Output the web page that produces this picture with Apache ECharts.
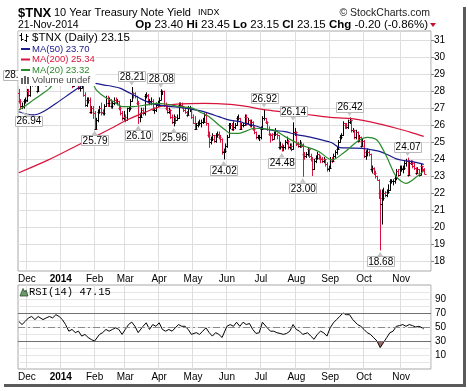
<!DOCTYPE html>
<html><head><meta charset="utf-8">
<script src="https://cdn.jsdelivr.net/npm/echarts/dist/echarts.min.js"></script>
<style>html,body{margin:0;padding:0;background:#fff}#c{width:468px;height:391px}</style>
</head><body><div id="c"></div><script>
// ---- categories (trading days per month segment) ----
const monthLabels = ['', 'Dec', '2014', 'Feb', 'Mar', 'Apr', 'May', 'Jun', 'Jul', 'Aug', 'Sep', 'Oct', 'Nov'];
const monthDays   = [5, 21, 21, 19, 21, 21, 21, 21, 22, 21, 21, 23, 15];
const padDays = 4;
const priceTicks = [18,19,20,21,22,23,24,25,26,27,28,29,30,31];
const rsiLabels = [10,30,50,70,90];
const rsiGrid = [0,10,20,30,40,50,60,70,80,90,100];

// ---- daily OHLC ($TNX x10) ----
const openP = [27.9,27.4,27.1,27.1,27.4,27.5,28.0,27.8,28.4,28.8,28.6,28.4,28.0,28.5,28.8,28.7,28.8,28.4,28.9,29.3,28.9,29.3,29.8,29.9,30.1,29.7,
30.3,29.9,30.0,29.6,29.4,29.9,29.7,28.6,28.3,28.7,28.9,28.5,28.2,28.2,28.6,27.8,27.2,27.5,27.5,26.8,27.0,
26.7,25.8,26.3,26.8,27.0,26.8,26.7,27.1,27.6,27.3,27.5,27.1,27.3,27.5,27.3,27.4,27.0,26.7,26.4,
26.5,26.3,27.0,27.0,27.4,27.9,27.8,27.7,27.3,26.5,26.5,26.9,26.7,27.7,27.8,27.4,27.4,27.4,26.9,26.9,27.2,
27.2,27.5,28.0,28.0,27.2,27.0,26.8,26.9,26.5,26.2,26.5,26.3,26.4,27.2,27.2,27.1,26.9,26.8,26.6,27.0,27.0,
26.5,26.1,25.8,26.0,26.1,26.1,26.2,26.2,26.6,26.1,25.4,25.0,25.2,25.4,25.1,25.4,25.5,25.3,25.2,24.4,24.5,
24.8,25.3,26.0,26.0,25.8,25.9,26.0,26.4,26.4,25.8,26.0,26.0,26.5,26.1,26.3,26.0,26.2,25.8,25.6,25.3,25.3,
25.3,25.8,26.4,26.4,26.2,25.8,25.5,25.4,25.2,25.5,25.5,25.4,24.7,24.8,24.7,24.7,25.0,25.1,24.7,24.8,24.6,25.6,
25.6,24.9,24.8,24.9,24.8,24.3,24.2,24.3,24.6,24.2,24.0,23.4,23.9,24.1,24.3,24.1,24.0,23.9,24.0,23.7,23.4,
23.5,24.0,23.9,24.2,24.4,24.6,25.0,25.3,25.4,26.1,26.0,25.9,26.2,26.3,25.7,25.7,25.3,25.6,25.1,25.3,24.8,
25.1,24.2,24.4,24.4,24.3,23.4,23.5,23.2,23.0,22.8,22.0,21.4,21.7,22.0,21.9,22.1,22.2,22.7,22.7,22.7,22.9,23.3,23.1,
23.4,23.4,23.5,23.8,23.9,23.1,23.8,23.8,23.6,23.5,23.2,23.4,23.1,23.6,23.40];
const highP = [28.1,27.5,27.3,27.5,27.6,28.1,28.1,28.5,28.97,28.9,28.7,28.5,28.6,28.9,28.9,28.9,28.8,29.4,29.4,29.4,29.4,29.8,30.0,30.2,30.1,30.4,
30.3,30.1,30.0,29.7,30.0,29.9,29.8,28.7,28.8,29.0,28.9,28.6,28.4,28.7,28.6,27.9,27.6,27.6,27.6,27.1,27.1,
26.8,26.4,26.9,27.1,27.3,26.9,27.2,27.7,27.7,27.6,27.5,27.4,27.6,27.6,27.5,27.4,27.1,26.8,26.8,
26.6,27.0,27.1,27.5,28.21,27.9,27.9,27.7,27.4,26.7,27.0,27.0,27.8,27.9,27.8,27.5,27.6,27.5,27.0,27.3,27.4,
27.6,28.08,28.0,28.0,27.3,27.1,27.0,26.9,26.6,26.6,26.5,26.6,27.3,27.3,27.3,27.1,27.0,26.8,27.1,27.1,27.0,
26.6,26.5,26.1,26.2,26.3,26.3,26.4,26.7,26.7,26.1,25.6,25.3,25.5,25.4,25.5,25.6,25.6,25.4,25.2,24.6,24.9,
25.4,26.1,26.1,26.1,26.2,26.1,26.5,26.6,26.4,26.1,26.1,26.6,26.6,26.4,26.3,26.3,26.2,25.9,25.6,25.4,25.4,
25.9,26.5,26.92,26.4,26.2,25.9,25.5,25.5,25.6,25.8,25.5,25.4,25.0,24.9,24.8,25.1,25.3,25.1,24.9,24.9,26.14,25.8,
25.6,25.0,25.1,25.0,24.9,24.4,24.4,24.7,24.6,24.3,24.1,24.0,24.2,24.4,24.3,24.2,24.1,24.1,24.0,23.8,23.6,
24.1,24.1,24.3,24.5,24.7,25.1,25.4,25.5,26.2,26.1,26.1,26.3,26.42,26.3,25.8,25.7,25.7,25.6,25.4,25.3,25.2,
25.1,24.5,24.6,24.5,24.3,23.6,23.5,23.3,23.0,22.8,22.2,22.2,22.3,22.1,22.2,22.5,22.8,22.8,22.8,23.0,23.4,23.4,23.6,
23.6,23.6,23.9,24.0,24.07,23.9,23.9,23.9,23.8,23.5,23.5,23.4,23.7,23.6,23.45];
const lowP = [27.3,26.94,26.97,27.0,27.3,27.4,27.7,27.7,28.3,28.4,28.3,27.9,28.0,28.4,28.6,28.6,28.3,28.3,28.9,28.8,28.9,29.3,29.6,29.9,29.6,29.7,
29.8,29.8,29.5,29.3,29.4,29.6,28.5,28.2,28.3,28.6,28.4,28.1,28.0,28.2,27.7,27.1,27.1,27.3,26.7,26.7,26.4,
25.79,25.8,26.2,26.7,26.6,26.6,26.6,27.1,27.1,27.1,27.0,27.0,27.2,27.3,27.2,26.9,26.6,26.3,26.3,
26.2,26.3,26.8,26.9,27.4,27.6,27.6,27.2,26.10,26.2,26.5,26.6,26.6,27.6,27.3,27.2,27.2,26.9,26.7,26.8,27.1,
27.1,27.5,27.8,27.1,26.9,26.7,26.7,26.4,26.1,25.96,26.1,26.3,26.4,27.1,27.0,26.8,26.7,26.5,26.6,26.8,26.4,
26.1,25.8,25.8,25.9,26.0,25.9,26.1,26.2,26.0,25.3,24.7,24.9,25.1,25.0,25.0,25.3,25.2,25.0,24.3,24.02,24.4,
24.7,25.3,25.8,25.7,25.7,25.8,26.0,26.3,25.8,25.8,25.9,26.0,26.0,26.1,25.9,25.9,25.7,25.5,25.2,25.2,25.1,
25.2,25.8,26.3,26.1,25.7,25.4,25.0,25.1,25.2,25.4,25.2,24.6,24.6,24.48,24.5,24.6,24.9,24.6,24.6,24.5,24.6,25.4,
24.8,24.7,24.7,24.7,23.00,24.0,24.1,24.2,24.1,23.9,23.05,23.4,23.8,24.0,24.0,23.8,23.8,23.8,23.6,23.3,23.3,
23.5,23.8,23.9,24.1,24.3,24.6,25.0,25.2,25.4,25.8,25.8,25.8,26.1,25.6,25.6,25.2,25.2,25.0,25.1,24.7,24.8,
24.1,24.0,24.2,24.2,23.3,23.2,23.1,22.9,22.8,21.7,18.68,20.2,21.6,21.8,21.8,22.0,22.2,22.6,22.5,22.6,22.8,23.0,23.1,
23.3,23.2,23.4,23.6,23.0,23.1,23.7,23.5,23.4,23.1,23.2,23.0,23.1,23.3,23.15];
const closeP = [27.4,27.1,27.1,27.4,27.5,28.0,27.8,28.4,28.8,28.6,28.4,28.0,28.5,28.8,28.7,28.8,28.4,28.9,29.3,28.9,29.3,29.8,29.9,30.1,29.7,30.3,
29.9,30.0,29.6,29.4,29.9,29.7,28.6,28.3,28.7,28.9,28.5,28.2,28.2,28.6,27.8,27.2,27.5,27.5,26.8,27.0,26.7,
25.8,26.3,26.8,27.0,26.8,26.7,27.1,27.6,27.3,27.5,27.1,27.3,27.5,27.3,27.4,27.0,26.7,26.4,26.5,
26.3,27.0,27.0,27.4,27.9,27.8,27.7,27.3,26.5,26.5,26.9,26.7,27.7,27.8,27.4,27.4,27.4,26.9,26.9,27.2,27.2,
27.5,28.0,28.0,27.2,27.0,26.8,26.9,26.5,26.2,26.5,26.3,26.4,27.2,27.2,27.1,26.9,26.8,26.6,27.0,27.0,26.5,
26.1,25.8,26.0,26.1,26.1,26.2,26.2,26.6,26.1,25.4,25.0,25.2,25.4,25.1,25.4,25.5,25.3,25.2,24.4,24.5,24.8,
25.3,26.0,26.0,25.8,25.9,26.0,26.4,26.4,25.8,26.0,26.0,26.5,26.1,26.3,26.0,26.2,25.8,25.6,25.3,25.3,25.3,
25.8,26.4,26.4,26.2,25.8,25.5,25.4,25.2,25.5,25.5,25.4,24.7,24.8,24.7,24.7,25.0,25.1,24.7,24.8,24.6,25.6,25.6,
24.9,24.8,24.9,24.8,24.3,24.2,24.3,24.6,24.2,24.0,23.4,23.9,24.1,24.3,24.1,24.0,23.9,24.0,23.7,23.4,23.5,
24.0,23.9,24.2,24.4,24.6,25.0,25.3,25.4,26.1,26.0,25.9,26.2,26.3,25.7,25.7,25.3,25.6,25.1,25.3,24.8,25.1,
24.2,24.4,24.4,24.3,23.4,23.5,23.2,23.0,22.8,22.0,21.4,21.7,22.0,21.9,22.1,22.2,22.7,22.7,22.7,22.9,23.3,23.1,23.4,
23.4,23.5,23.8,23.9,23.1,23.8,23.8,23.6,23.5,23.2,23.4,23.1,23.6,23.35,23.15];

// ---- moving averages: [tradingDayIndex, value] ----
const ma50 = [[0,26.79],[9,26.6],[15,26.79],[23,27.28],[32,27.87],[38,28.26],[43,28.45],[47,28.46],[53,28.35],[57,28.3],[63,28.16],[67,27.97],[75,27.58],[79,27.4],[84,27.24],[93,27.1],[100,27.05],[106,26.96],[112,26.85],[116,26.75],[124,26.5],[130,26.31],[137,26.21],[140,26.11],[147,25.95],[153,25.76],[159,25.68],[165,25.62],[172,25.45],[179,25.33],[187,25.15],[194,24.97],[199,24.68],[206,24.66],[213,24.64],[219,24.55],[224,24.45],[229,24.25],[234,24.02],[239,23.92],[244,23.86],[251,23.70]];
const ma200 = [[0,23.21],[18,23.95],[38,24.9],[55,25.7],[67,26.3],[78,26.75],[88,27.1],[100,27.25],[115,27.28],[131,27.22],[141,27.1],[151,26.93],[162,26.8],[172,26.7],[183,26.58],[193,26.46],[205,26.4],[218,26.2],[226,26.02],[234,25.82],[243,25.58],[251,25.34]];
const ma20 = [[0,26.89],[5,27.2],[9,27.48],[15,27.87],[19,28.16],[23,28.6],[28,29.2],[33,29.4],[38,29.2],[43,28.75],[46,28.46],[48,28.07],[53,27.67],[59,27.38],[64,27.09],[71,27.09],[79,27.19],[85,27.28],[92,27.23],[100,27.09],[108,26.99],[112,26.79],[118,26.5],[124,26.01],[128,25.72],[131,25.52],[136,25.52],[140,25.62],[146,25.82],[155,25.76],[159,25.68],[165,25.33],[175,24.84],[186,24.45],[194,23.96],[201,24.35],[211,25.13],[216,25.29],[222,25.13],[228,24.15],[234,22.98],[240,22.59],[247,23.0],[251,23.32]];

// ---- RSI(14) ----
const rsi = [[0,58],[2,53.5],[4,58],[6,63],[8,65],[10,60.6],[12,65],[15,60.6],[17,63],[19,65],[21,63],[23,67.6],[25,65],[27,60.6],[29,53.5],[31,44],[33,46.5],[35,42],[37,44],[39,37],[41,39.4],[43,35],[45,32],[47,30],[50,39.4],[52,42],[54,46.5],[56,44],[58,46.5],[60,48.8],[62,46.5],[64,39.4],[66,46.5],[68,53.5],[70,57],[72,51],[74,42],[77,51],[79,56],[81,46.5],[83,53.5],[85,51],[87,56],[89,46.5],[91,44],[93,46.5],[95,44],[97,48.8],[99,53.5],[101,51],[103,51],[105,46.5],[107,39.4],[110,42],[112,39.4],[114,44],[116,48.8],[118,42],[120,37],[122,42],[124,39.4],[126,35],[127,33],[129,51],[131,53.5],[133,51],[135,56.8],[137,51],[139,56.8],[141,53.5],[143,55],[145,46.5],[147,40.8],[149,41.8],[151,56.8],[154,48.8],[156,44],[158,44],[160,41.8],[162,40.8],[164,39.4],[166,40.8],[168,44],[170,53.5],[172,46.5],[174,44],[176,39.4],[179,41.8],[181,37],[183,32.4],[185,39.4],[187,44],[189,41.8],[191,37],[193,48.8],[195,56],[197,60.6],[199,65.3],[201,70],[203,67.6],[205,67.6],[207,60.6],[210,53.5],[212,51],[214,46.5],[216,41.8],[218,39.4],[220,34.7],[222,30],[224,20.6],[226,27.6],[228,34.7],[230,41.8],[232,44],[234,51],[236,52],[238,53.5],[240,51],[242,53.5],[244,52],[246,50],[248,51],[250,49],[251,47.15]];
const rsiOversold = [[222,30],[224,20.6],[226,27.6],[227,30]];

// ---- annotations: [index, value, 'h'|'l', dx] ----
const annotations = [[1,26.94,'l',8],[47,25.79,'l',0],[70,28.21,'h',0],[74,26.10,'l',0],[88,28.08,'h',0],[96,25.96,'l',0],[127,24.02,'l',0],[152,26.92,'h',0],[163,24.48,'l',0],[170,26.14,'h',0],[176,23.00,'l',0],[205,26.42,'h',0],[224,18.68,'l',0],[241,24.07,'h',0]];

// ---- build ----
const FONT = '"Liberation Sans", Arial, sans-serif';
const GRID = '#dedede';
const cats = [];
const monthStarts = {};
monthLabels.forEach((m, k) => {
  for (let d = 0; d < monthDays[k]; d++) {
    if (d === 0 && m) monthStarts[cats.length] = m;
    cats.push(k + '-' + d);
  }
});
for (let p = 0; p < padDays; p++) cats.push('pad' + p);
const isStart = i => monthStarts[i] !== undefined;
const ohlcData = closeP.map((c, i) => [i, openP[i], highP[i], lowP[i], c, i ? closeP[i - 1] : openP[i]]);

function xAxisFor(g) {
  return {
    type: 'category', gridIndex: g, data: cats, boundaryGap: true,
    axisLine: {show: false}, axisTick: {show: false},
    axisLabel: {
      interval: (i) => isStart(i),
      formatter: (v, i) => { const m = monthStarts[i]; return m === '2014' ? '{b|2014}' : (m || ''); },
      fontSize: 10, fontFamily: FONT, color: '#000', margin: 3,
      rich: {b: {fontWeight: 'bold', fontSize: 10, fontFamily: FONT, color: '#000'}}
    },
    splitLine: {show: true, interval: (i) => isStart(i), lineStyle: {color: GRID, width: 1}}
  };
}

function renderOHLC(params, api) {
  const i = api.value(0);
  const pO = api.coord([i, api.value(1)]);
  const pH = api.coord([i, api.value(2)]);
  const pL = api.coord([i, api.value(3)]);
  const pC = api.coord([i, api.value(4)]);
  const up = api.value(4) >= api.value(5);
  const col = up ? '#000000' : '#d8123c';
  const x = Math.round(pH[0]) + 0.5;
  const yo = Math.round(pO[1]) + 0.5, yc = Math.round(pC[1]) + 0.5;
  const st = {stroke: col, lineWidth: 1};
  return {type: 'group', children: [
    {type: 'line', shape: {x1: x, y1: pH[1] - 0.5, x2: x, y2: pL[1] + 0.5}, style: st},
    {type: 'line', shape: {x1: x - 2, y1: yo, x2: x, y2: yo}, style: st},
    {type: 'line', shape: {x1: x, y1: yc, x2: x + 2, y2: yc}, style: st}
  ]};
}

const chart = echarts.init(document.getElementById('c'), null, {renderer: 'canvas', width: 468, height: 391});
const option = {
  animation: false,
  backgroundColor: '#ffffff',
  grid: [
    {left: 18, top: 31, width: 413, height: 240, show: true, borderColor: '#a8a8a8', borderWidth: 1},
    {left: 18, top: 285, width: 413, height: 84, show: true, borderColor: '#a8a8a8', borderWidth: 1}
  ],
  xAxis: [xAxisFor(0), xAxisFor(1)],
  yAxis: [
    {type: 'value', gridIndex: 0, position: 'right', min: 17.443, max: 31.528,
     axisLine: {show: false},
     axisTick: {show: true, length: 3, customValues: priceTicks, lineStyle: {color: '#888'}},
     axisLabel: {customValues: priceTicks, fontSize: 10, fontFamily: FONT, color: '#000', margin: 3},
     splitLine: {show: true, lineStyle: {color: GRID}}},
    {type: 'value', gridIndex: 1, position: 'right', min: -10, max: 110,
     axisLine: {show: false},
     axisTick: {show: false, customValues: rsiGrid},
     axisLabel: {customValues: rsiLabels, fontSize: 10, fontFamily: FONT, color: '#000', margin: 4},
     splitLine: {show: true, lineStyle: {color: '#e6e6e6'}}}
  ],
  series: [
    {type: 'custom', name: 'TNX', xAxisIndex: 0, yAxisIndex: 0, data: ohlcData,
     encode: {x: 0, y: [1, 2, 3, 4]}, renderItem: renderOHLC, clip: true, z: 2},
    {type: 'line', name: 'MA200', xAxisIndex: 0, yAxisIndex: 0, data: ma200, showSymbol: false, smooth: 0.3,
     lineStyle: {color: '#d8143c', width: 1.2}, z: 3},
    {type: 'line', name: 'MA50', xAxisIndex: 0, yAxisIndex: 0, data: ma50, showSymbol: false, smooth: 0.3,
     lineStyle: {color: '#1a1a8c', width: 1.2}, z: 3},
    {type: 'line', name: 'MA20', xAxisIndex: 0, yAxisIndex: 0, data: ma20, showSymbol: false, smooth: 0.3,
     lineStyle: {color: '#2a8a2a', width: 1.2}, z: 3},
    {type: 'custom', name: 'RSIfill', xAxisIndex: 1, yAxisIndex: 1, data: [[222, 30]], encode: {x: 0, y: 1},
     renderItem: (p, api) => ({type: 'polygon', shape: {points: rsiOversold.map(q => api.coord(q))}, style: {fill: '#a46a6a'}}), z: 2},
    {type: 'line', name: 'RSI', xAxisIndex: 1, yAxisIndex: 1, data: rsi, showSymbol: false,
     lineStyle: {color: '#000', width: 1}, z: 4,
     markLine: {silent: true, symbol: 'none', label: {show: false},
       data: [
         {yAxis: 70, lineStyle: {color: '#707070', width: 1, type: 'solid'}},
         {yAxis: 30, lineStyle: {color: '#707070', width: 1, type: 'solid'}},
         {yAxis: 50, lineStyle: {color: '#8a8a8a', width: 1, type: [7, 3, 2, 3]}}
       ]}}
  ]
};
chart.setOption(option);

// ---- graphics (text, legend, annotations, frame) ----
function txt(x, y, text, font, fill, align) {
  return {type: 'text', z: 100, style: {x: x, y: y, text: text, font: font, fill: fill || '#000',
    textAlign: align || 'left', align: align || 'left', textVerticalAlign: 'middle', verticalAlign: 'middle'}};
}
const els = [];
// header
els.push(txt(18, 13, '$TNX', 'bold 13px ' + FONT));
els.push(txt(54, 13, '10 Year Treasury Note Yield', '11px ' + FONT));
els.push(txt(198, 13, 'INDX', '9px ' + FONT));
els.push(txt(430, 13, '\u00a9 StockCharts.com', '10.5px ' + FONT, '#222', 'right'));
els.push(txt(18, 25, '21-Nov-2014', '10.5px ' + FONT));
els.push({type: 'text', z: 100, style: {x: 428, y: 25, textAlign: 'right', align: 'right', textVerticalAlign: 'middle', verticalAlign: 'middle',
  text: '{b|Op} 23.40 {b|Hi} 23.45 {b|Lo} 23.15 {b|Cl} 23.15 {b|Chg} -0.20 (-0.86%)',
  font: '11.5px ' + FONT, fill: '#000', rich: {b: {font: 'bold 11.5px ' + FONT, fill: '#000'}}}});
els.push({type: 'polygon', z: 100, shape: {points: [[430, 23], [436, 23], [433, 27]]}, style: {fill: '#c8102e'}});

// annotations
annotations.forEach(a => {
  const [i, v, t, dx] = a;
  const p = chart.convertToPixel({gridIndex: 0}, [i, v]);
  const cx = p[0] + dx;
  const w = 27, h = 10;
  const cy = t === 'h' ? p[1] - 11.5 : p[1] + 11.5;
  const by = t === 'h' ? cy + h / 2 : cy - h / 2;
  const tip = t === 'h' ? p[1] - 2 : p[1] + 2;
  els.push({type: 'polygon', z: 50, shape: {points: [[cx - 3, by], [cx + 3, by], [p[0], tip]]}, style: {fill: '#c4c4c4'}});
  els.push({type: 'rect', z: 50, shape: {x: Math.round(cx - w / 2) + 0.5, y: Math.round(cy - h / 2) + 0.5, width: w, height: h},
    style: {fill: '#fff', stroke: '#b8b8b8', lineWidth: 1}});
  els.push(Object.assign(txt(cx + 0.5, cy + 1, v.toFixed(2), '10px ' + FONT, '#000', 'center'), {z: 51}));
});
// the partly hidden early-December label
(function () {
  const p = chart.convertToPixel({gridIndex: 0}, [8, 28.97]);
  const cx = p[0] - 15, cy = p[1];
  els.push({type: 'rect', z: 50, shape: {x: Math.round(cx - 13.5) + 0.5, y: Math.round(cy - 5) + 0.5, width: 27, height: 10},
    style: {fill: '#fff', stroke: '#b8b8b8', lineWidth: 1}});
  els.push(Object.assign(txt(cx + 0.5, cy + 1, '28.97', '10px ' + FONT, '#000', 'center'), {z: 51}));
})();

// legend box
els.push({type: 'rect', z: 60, shape: {x: 18.5, y: 31.5, width: 77, height: 54.5}, style: {fill: '#fff'}});
els.push({type: 'line', z: 61, shape: {x1: 21.5, y1: 33, x2: 21.5, y2: 41}, style: {stroke: '#000', lineWidth: 1}});
els.push({type: 'line', z: 61, shape: {x1: 19.5, y1: 35.5, x2: 21.5, y2: 35.5}, style: {stroke: '#000', lineWidth: 1}});
els.push({type: 'line', z: 61, shape: {x1: 21.5, y1: 39.5, x2: 23.5, y2: 39.5}, style: {stroke: '#000', lineWidth: 1}});
els.push({type: 'line', z: 61, shape: {x1: 26.5, y1: 34, x2: 26.5, y2: 42}, style: {stroke: '#000', lineWidth: 1}});
els.push({type: 'line', z: 61, shape: {x1: 24.5, y1: 40.5, x2: 26.5, y2: 40.5}, style: {stroke: '#000', lineWidth: 1}});
els.push({type: 'line', z: 61, shape: {x1: 26.5, y1: 36.5, x2: 28.5, y2: 36.5}, style: {stroke: '#000', lineWidth: 1}});
els.push(Object.assign(txt(32, 37.5, '$TNX (Daily) 23.15', '11.5px ' + FONT, '#000'), {z: 61}));
const legRows = [['MA(50) 23.70', '#1a1a8c', 49], ['MA(200) 25.34', '#d8143c', 59.5], ['MA(20) 23.32', '#2a8a2a', 70]];
legRows.forEach(r => {
  els.push({type: 'rect', z: 61, shape: {x: 21, y: r[2] - 1, width: 9, height: 2}, style: {fill: r[1]}});
  els.push(Object.assign(txt(32, r[2], r[0], '9.5px ' + FONT, r[1]), {z: 61}));
});
els.push({type: 'rect', z: 61, shape: {x: 21, y: 78, width: 2, height: 6}, style: {fill: '#666'}});
els.push({type: 'rect', z: 61, shape: {x: 24, y: 76, width: 2, height: 8}, style: {fill: '#666'}});
els.push({type: 'rect', z: 61, shape: {x: 27, y: 77, width: 2, height: 7}, style: {fill: '#666'}});
els.push(Object.assign(txt(32, 80.5, 'Volume undef', '9.5px ' + FONT, '#444'), {z: 61}));

// RSI label
els.push({type: 'polygon', z: 61, shape: {points: [[20, 296], [23, 288.5], [25, 292], [26, 290], [28, 296]]}, style: {fill: '#6a9a6a', stroke: '#2c4c2c', lineWidth: 0.8}});
els.push(Object.assign(txt(29, 292, 'RSI(14) 47.15', '10.5px "Liberation Mono", monospace', '#000'), {z: 61}));

// frame shadow
els.push({type: 'rect', z: 100, shape: {x: 463, y: 7, width: 3, height: 380}, style: {fill: '#5a5a5a'}});
els.push({type: 'rect', z: 100, shape: {x: 4, y: 384, width: 462, height: 3}, style: {fill: '#5a5a5a'}});

chart.setOption({graphic: {elements: els}});
</script></body></html>
